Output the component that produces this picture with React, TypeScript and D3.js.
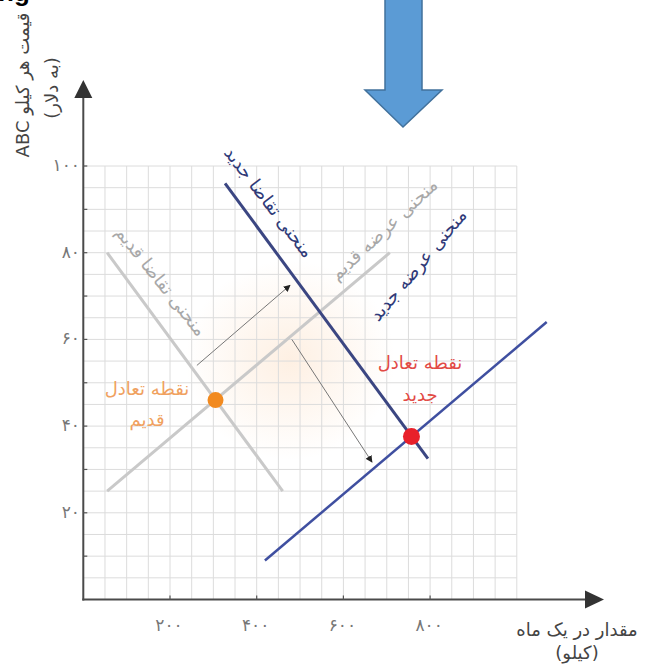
import React from "react";
import * as d3 from "d3";

// ---- data (quantity in kg / month, price in $) ----
const xTicks = [200, 400, 600, 800];
const xTickLabels = ["۲۰۰", "۴۰۰", "۶۰۰", "۸۰۰"];
const yTicks = [20, 40, 60, 80, 100];
const yTickLabels = ["۲۰", "۴۰", "۶۰", "۸۰", "۱۰۰"];
const yMinorTicks = [10, 20, 30, 40, 50, 60, 70, 80, 90, 100];

const oldDemand: [number, number][] = [[55, 80], [460, 25]];
const oldSupply: [number, number][] = [[55, 25], [707, 80]];
const newDemand: [number, number][] = [[327, 96], [795, 32.5]];
const newSupply: [number, number][] = [[419, 9], [1069, 64]];
const shiftArrows: [number, number][][] = [
  [[262, 54], [477, 72.5]],
  [[481, 60], [666, 31.7]],
];
const oldEq: [number, number] = [305, 46];
const newEq: [number, number] = [757, 37.6];

const gridX = d3.range(0, 1001, 50);
const gridY = d3.range(0, 101, 5);

const FONT = "'DejaVu Sans', sans-serif";

export default function App() {
  const x = d3.scaleLinear().domain([0, 1000]).range([83.3, 516.8]);
  const y = d3.scaleLinear().domain([0, 100]).range([599.5, 166]);
  const line = d3
    .line<[number, number]>()
    .x((d) => x(d[0]))
    .y((d) => y(d[1]));

  const x0 = x(0);
  const y0 = y(0);

  return (
    <svg
      width={650}
      height={668}
      style={{ position: "absolute", left: 0, top: 0, background: "#fff" }}
    >
      <defs>
        <radialGradient id="glow" cx="50%" cy="50%" r="50%">
          <stop offset="0%" stopColor="#fbd3ae" stopOpacity={0.35} />
          <stop offset="100%" stopColor="#fbd3ae" stopOpacity={0} />
        </radialGradient>
        <marker
          id="ah"
          viewBox="0 0 10 10"
          refX={9}
          refY={5}
          markerWidth={7}
          markerHeight={7}
          orient="auto"
          markerUnits="userSpaceOnUse"
        >
          <path d="M0,0 L10,5 L0,10 Z" fill="#222" />
        </marker>
      </defs>

      {/* partial text at top */}
      <text x={-2} y={1} fontSize={26} fontWeight="bold" fontFamily="'Liberation Sans', sans-serif" fill="#000">
        ng
      </text>

      {/* soft glow */}
      <ellipse cx={290} cy={360} rx={105} ry={100} fill="url(#glow)" />

      {/* grid */}
      <g stroke="#dcdcdc" strokeWidth={1}>
        {gridX.map((v) => (
          <line key={"gx" + v} x1={x(v)} x2={x(v)} y1={y(0)} y2={y(100)} />
        ))}
        {gridY.map((v) => (
          <line key={"gy" + v} x1={x(0)} x2={x(1000)} y1={y(v)} y2={y(v)} />
        ))}
      </g>

      {/* old curves */}
      <path d={line(oldDemand) || ""} stroke="#c9c9c9" strokeWidth={3} fill="none" />
      <path d={line(oldSupply) || ""} stroke="#c9c9c9" strokeWidth={3} fill="none" />

      {/* shift arrows */}
      {shiftArrows.map((a, i) => (
        <path key={i} d={line(a) || ""} stroke="#777" strokeWidth={1} fill="none" markerEnd="url(#ah)" />
      ))}

      {/* new curves */}
      <path d={line(newDemand) || ""} stroke="#3b4682" strokeWidth={3} fill="none" />
      <path d={line(newSupply) || ""} stroke="#3f4fa0" strokeWidth={2.5} fill="none" />

      {/* equilibrium points */}
      <circle cx={x(oldEq[0])} cy={y(oldEq[1])} r={8} fill="#f28a1f" />
      <circle cx={x(newEq[0])} cy={y(newEq[1])} r={8.5} fill="#e8202a" />

      {/* axes */}
      <g stroke="#4a4a4a" strokeWidth={2}>
        <line x1={x0} x2={x0} y1={y0 + 1} y2={96} />
        <line x1={x0 - 1} x2={586} y1={y0} y2={y0} />
      </g>
      <path d={`M${x0},80 L${x0 - 9},98 L${x0 + 9},98 Z`} fill="#333" />
      <path d={`M604,${y0} L585,${y0 - 9} L585,${y0 + 9} Z`} fill="#333" />

      {/* ticks */}
      <g stroke="#555" strokeWidth={1.2}>
        {yMinorTicks.map((v) => (
          <line key={"yt" + v} x1={x0} x2={x0 + 4} y1={y(v)} y2={y(v)} />
        ))}
        {xTicks.map((v) => (
          <line key={"xt" + v} x1={x(v)} x2={x(v)} y1={y0} y2={y0 - 4} />
        ))}
      </g>
      <g fontFamily={FONT} fontSize={17} fill="#777" letterSpacing={3.5}>
        {yTicks.map((v, i) => (
          <text key={"yl" + v} x={80} y={y(v) + 5} textAnchor="end">
            {yTickLabels[i]}
          </text>
        ))}
        {xTicks.map((v, i) => (
          <text key={"xl" + v} x={x(v) - 1} y={631} textAnchor="middle">
            {xTickLabels[i]}
          </text>
        ))}
      </g>

      {/* axis titles */}
      <g fontFamily={FONT} fontSize={18} fill="#444">
        <text transform="translate(29,85) rotate(-90)" textAnchor="middle" direction="rtl">
          قیمت هر کیلو ABC
        </text>
        <text transform="translate(58,88) rotate(-90)" textAnchor="middle" direction="rtl">
          (به دلار)
        </text>
        <text x={577} y={636} textAnchor="middle" direction="rtl" fontSize={18}>
          مقدار در یک ماه
        </text>
        <text x={577} y={659} textAnchor="middle" direction="rtl" fontSize={18}>
          (کیلو)
        </text>
      </g>

      {/* curve labels */}
      <g fontFamily={FONT} fontSize={18}>
        <text transform="translate(264,206) rotate(52.5)" textAnchor="middle" direction="rtl" fill="#2f3a78">
          منحنی تقاضا جدید
        </text>
        <text transform="translate(388,234) rotate(-43)" textAnchor="middle" direction="rtl" fill="#a8a8a8">
          منحنی عرضه قدیم
        </text>
        <text transform="translate(423,269) rotate(-50)" textAnchor="middle" direction="rtl" fill="#2f3a78">
          منحنی عرضه جدید
        </text>
        <text transform="translate(156,285) rotate(51.6)" textAnchor="middle" direction="rtl" fill="#a8a8a8">
          منحنی تقاضا قدیم
        </text>
      </g>

      {/* equilibrium labels */}
      <g fontFamily={FONT} fontSize={18} textAnchor="middle">
        <text x={147} y={395} direction="rtl" fill="#f0a160">نقطه تعادل</text>
        <text x={147} y={426} direction="rtl" fill="#f0a160">قدیم</text>
        <text x={420} y={369} direction="rtl" fill="#e24a45">نقطه تعادل</text>
        <text x={420} y={401} direction="rtl" fill="#e24a45">جدید</text>
      </g>

      {/* big blue arrow */}
      <path
        d="M385,-3 L422,-3 L422,90 L442,90 L403,127 L365,90 L385,90 Z"
        fill="#5b9bd5"
        stroke="#41719c"
        strokeWidth={1.5}
      />
    </svg>
  );
}
